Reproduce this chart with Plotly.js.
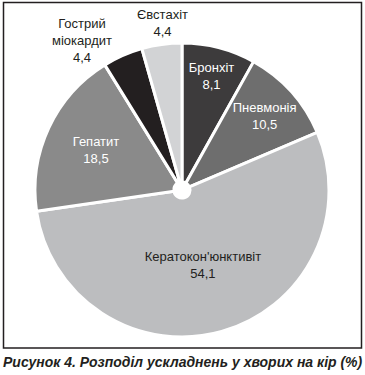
<!DOCTYPE html>
<html><head><meta charset="utf-8">
<script src="https://cdn.plot.ly/plotly-3.0.1.min.js"></script>
<style>html,body{margin:0;padding:0;background:#fff}</style>
</head><body><div id="chart" style="width:365px;height:375px"></div>
<script>
const categories = ["Бронхіт", "Пневмонія", "Кератокон'юнктивіт", "Гепатит", "Гострий<br>міокардит", "Євстахіт"];
const values = [8.1, 10.5, 54.1, 18.5, 4.4, 4.4];
const sliceColors = ["#3d3b3c", "#6e6e6e", "#bcbdbf", "#8a8a8a", "#231f20", "#d2d3d5"];
const textColors = ["#ffffff", "#ffffff", "#231f20", "#ffffff", "#231f20", "#231f20"];
const textPositions = ["inside", "inside", "inside", "inside", "none", "none"];
const caption = "Рисунок 4. Розподіл ускладнень у хворих на кір (%)";
// label anchor points (pixels) for the two small slices drawn outside
const outsideLabelPos = {4: [82, 40], 5: [162, 23]};

const W = 365, H = 375;
const FONT = "Liberation Sans, Arial, sans-serif";
const fmt = v => v.toFixed(1).replace(".", ",");

const trace = {
  type: "pie",
  labels: categories,
  values: values,
  sort: false,
  direction: "clockwise",
  rotation: 0,
  hole: 0.055,
  marker: {colors: sliceColors, line: {color: "#ffffff", width: 3}},
  texttemplate: "%{label}<br>%{value:.1f}",
  textposition: textPositions,
  insidetextorientation: "horizontal",
  textfont: {family: FONT, size: 13, color: textColors},
  showlegend: false,
  hoverinfo: "none",
  domain: {x: [35 / W, 329 / W], y: [(H - 337) / H, (H - 43) / H]}
};

const annotations = [{text: "<b><i>" + caption + "</i></b>", xref: "paper", yref: "paper", x: 0.5, y: (H - 362) / H,
                 xanchor: "center", yanchor: "middle", showarrow: false,
                 font: {family: FONT, size: 14, color: "#231f20"}}];
Object.keys(outsideLabelPos).forEach(k => {
  const i = +k, p = outsideLabelPos[k];
  annotations.push({text: categories[i] + "<br>" + fmt(values[i]), xref: "paper", yref: "paper",
    x: p[0] / W, y: (H - p[1]) / H, xanchor: "center", yanchor: "middle", showarrow: false,
    font: {family: FONT, size: 13, color: textColors[i]}});
});

const layout = {
  width: W, height: H,
  margin: {l: 0, r: 0, t: 0, b: 0},
  paper_bgcolor: "#ffffff",
  separators: ", ",
  font: {family: FONT, color: "#231f20"},
  shapes: [{type: "rect", xref: "paper", yref: "paper", x0: 3.5 / W, x1: 361.5 / W, y0: (H - 348) / H, y1: (H - 2.5) / H,
            line: {color: "#231f20", width: 1.5}, fillcolor: "rgba(0,0,0,0)"}],
  annotations: annotations
};
Plotly.newPlot("chart", [trace], layout, {displayModeBar: false, staticPlot: true});
</script></body></html>
